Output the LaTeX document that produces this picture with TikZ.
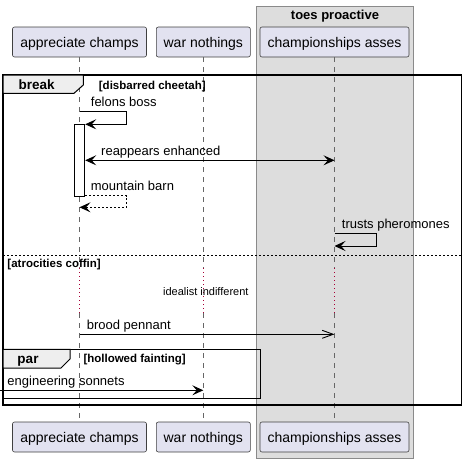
\documentclass[tikz,border=0pt]{standalone}
\usepackage{fontspec}
\setmainfont{Liberation Sans}
\usetikzlibrary{arrows.meta}
\definecolor{partfill}{HTML}{E2E2F0}
\definecolor{grpfill}{HTML}{DDDDDD}
\definecolor{grpline}{HTML}{8A8A8A}
\definecolor{tabfill}{HTML}{EEEEEE}
\definecolor{delayred}{HTML}{A80036}
\begin{document}
\begin{tikzpicture}[x=1pt,y=-1pt,
  part/.style={draw=black!75, fill=partfill, rounded corners=2pt, line width=0.6pt, inner sep=0pt,
    minimum height=30pt, text height=12pt, text depth=1pt, font=\fontsize{14}{16}\selectfont},
  lifeline/.style={draw=black!60, line width=0.7pt, dash pattern=on 5pt off 5pt},
  delayline/.style={draw=delayred, line width=0.9pt, dash pattern=on 1pt off 3pt},
  msg/.style={draw=black, line width=0.9pt},
  fhead/.tip={Stealth[length=11pt,width=10pt,inset=4.5pt]},
  ohead/.tip={Straight Barb[length=11pt,width=8pt]},
  lbl/.style={inner sep=0pt, anchor=base west, font=\fontsize{13}{15}\selectfont},
  guard/.style={inner sep=0pt, anchor=base west, font=\bfseries\fontsize{11.5}{13}\selectfont},
  frame/.style={draw=black, line width=1.5pt},
  tabshape/.style={draw=black, fill=tabfill, line width=1pt},
  tablbl/.style={inner sep=0pt, anchor=base, font=\bfseries\fontsize{13.5}{15}\selectfont},
  actbox/.style={draw=black, fill=white, line width=0.9pt, inner sep=0pt, minimum width=10.7pt, minimum height=72pt}
]
\useasboundingbox (0,0) rectangle (467,463);
% group box
\draw[fill=grpfill, draw=grpline, line width=1pt] (256,6) rectangle (413,458);
\node[inner sep=0pt, anchor=base, font=\bfseries\fontsize{13}{15}\selectfont] (gt) at (335,19.3) {toes proactive};
% participants
\node[part, minimum width=134pt] (a1) at (79.5,42) {appreciate champs};
\node[part, minimum width=94pt] (w1) at (203.3,42) {war nothings};
\node[part, minimum width=149pt] (c1) at (334.5,42) {championships asses};
\node[part, minimum width=134pt] (a2) at (79.5,437) {appreciate champs};
\node[part, minimum width=94pt] (w2) at (203.3,437) {war nothings};
\node[part, minimum width=149pt] (c2) at (334.5,437) {championships asses};
% lifelines
\coordinate (d1) at (0,268);
\coordinate (d2) at (0,313);
\foreach \t/\b in {a1/a2, w1/w2, c1/c2}{
  \draw[lifeline] (\t.south) -- (\t.south |- d1);
  \draw[delayline] (\t.south |- d1) -- (\t.south |- d2);
  \draw[lifeline] (\t.south |- d2) -- (\b.north);
}
% break frame
\draw[frame] (3,75) rectangle (461.7,405);
\draw[tabshape] (3,75) -- (83.3,75) -- (83.3,85) -- (74,93.3) -- (3,93.3) -- cycle;
\node[tablbl] (brk) at (36.7,89.8) {break};
\node[guard] (g1) at (98.7,89.5) {[disbarred cheetah]};
% activation
\node[actbox] (act) at (79.4,160.3) {};
% felons boss
\draw[msg, -fhead] (a1.south |- 0,111.7) -- (126.7,111.7) -- (126.7,124.3) -- (act.east |- 0,124.3);
\node[lbl] (l1) at (90.7,106.5) {felons boss};
% reappears enhanced
\draw[msg, fhead-fhead] (act.east |- 0,160.3) -- (c1.south |- 0,160.3);
\node[lbl] (l2) at (101,155) {reappears enhanced};
% mountain barn
\draw[msg, dash pattern=on 2pt off 2pt, -fhead] (act.east |- 0,195.7) -- (126.7,195.7) -- (126.7,207.3) -- (a1.south |- 0,207.3);
\node[lbl] (l3) at (90.7,190.5) {mountain barn};
% trusts pheromones
\draw[msg, -fhead] (c1.south |- 0,233.3) -- (376.7,233.3) -- (376.7,246) -- (c1.south |- 0,246);
\node[lbl] (l4) at (341.7,228) {trusts pheromones};
% separator
\draw[draw=black, line width=0.8pt, dash pattern=on 2pt off 2pt] (3,255) -- (461.7,255);
\node[guard] (g2) at (7.3,267) {[atrocities coffin]};
% delay text
\node[inner sep=0pt, anchor=base, font=\fontsize{11}{13}\selectfont] (dl) at (205.8,295.5) {idealist indifferent};
% brood pennant
\draw[msg, -ohead] (a1.south |- 0,334.3) -- (c1.south |- 0,334.3);
\node[lbl] (l5) at (86.7,329) {brood pennant};
% par frame
\draw[frame] (3,349.3) rectangle (260.7,398.3);
\draw[tabshape] (3,349.3) -- (70,349.3) -- (70,359) -- (61,368) -- (3,368) -- cycle;
\node[tablbl] (par) at (28,363) {par};
\node[guard] (g3) at (83.3,362.5) {[hollowed fainting]};
% engineering sonnets
\coordinate (src) at (0,390.3);
\draw[msg, -fhead] (src) -- (w1.south |- src);
\node[lbl] (l6) at (7.3,385) {engineering sonnets};
\end{tikzpicture}
\end{document}
